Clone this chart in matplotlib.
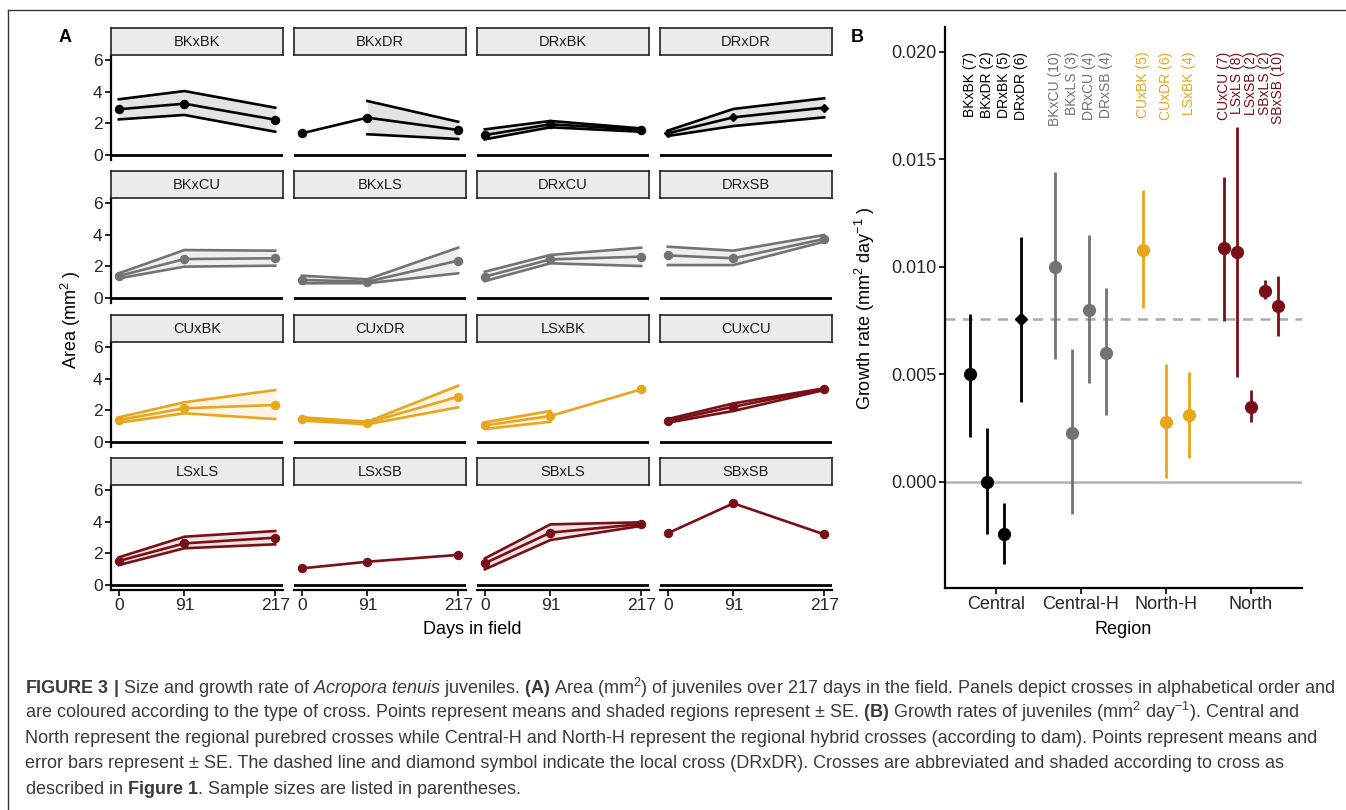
import matplotlib
matplotlib.use("Agg")
import matplotlib.pyplot as plt
from matplotlib import font_manager
from matplotlib.lines import Line2D
import numpy as np

nan = float("nan")

# ---- panel A: area over time (mean, mean+SE, mean-SE) ----
days = [0, 91, 217]
crosses = ["BKxBK", "BKxDR", "DRxBK", "DRxDR",
           "BKxCU", "BKxLS", "DRxCU", "DRxSB",
           "CUxBK", "CUxDR", "LSxBK", "CUxCU",
           "LSxLS", "LSxSB", "SBxLS", "SBxSB"]
cross_group = ["Central", "Central", "Central", "Central",
               "Central-H", "Central-H", "Central-H", "Central-H",
               "North-H", "North-H", "North-H", "North",
               "North", "North", "North", "North"]
area_mean = [[2.89, 3.24, 2.23], [1.37, 2.36, 1.58], [1.26, 1.94, 1.60], [1.37, 2.38, 2.99],
             [1.39, 2.46, 2.51], [1.14, 1.03, 2.36], [1.35, 2.44, 2.61], [2.69, 2.51, 3.73],
             [1.39, 2.13, 2.34], [1.45, 1.22, 2.86], [1.05, 1.64, 3.33], [1.33, 2.23, 3.35],
             [1.52, 2.63, 2.99], [1.05, 1.47, 1.90], [1.37, 3.31, 3.85], [3.27, 5.16, 3.20]]
area_upper = [[3.52, 4.04, 2.99], [nan, 3.41, 2.10], [1.62, 2.15, 1.68], [1.54, 2.91, 3.58],
              [1.56, 3.03, 2.99], [1.41, 1.18, 3.18], [1.66, 2.72, 3.18], [3.24, 2.99, 3.98],
              [1.56, 2.51, 3.28], [1.56, 1.28, 3.56], [1.24, 1.96, nan], [1.45, 2.44, 3.39],
              [1.75, 3.05, 3.41], [nan, nan, nan], [1.68, 3.83, 3.96], [nan, nan, nan]]
area_lower = [[2.25, 2.53, 1.47], [nan, 1.31, 1.01], [0.99, 1.75, 1.47], [1.20, 1.83, 2.38],
              [1.24, 1.98, 2.04], [0.93, 0.93, 1.56], [1.07, 2.19, 2.02], [2.08, 2.08, 3.56],
              [1.22, 1.81, 1.45], [1.35, 1.12, 2.19], [0.82, 1.28, nan], [1.22, 1.96, 3.28],
              [1.26, 2.32, 2.57], [nan, nan, nan], [0.99, 2.84, 3.73], [nan, nan, nan]]
local_cross = "DRxDR"

# ---- panel B: growth rates (mean and SE limits) ----
regions = ["Central", "Central-H", "North-H", "North"]
growth_cross = ["BKxBK", "BKxDR", "DRxBK", "DRxDR",
                "BKxCU", "BKxLS", "DRxCU", "DRxSB",
                "CUxBK", "CUxDR", "LSxBK",
                "CUxCU", "LSxLS", "LSxSB", "SBxLS", "SBxSB"]
growth_region = ["Central"] * 4 + ["Central-H"] * 4 + ["North-H"] * 3 + ["North"] * 5
growth_n = [7, 2, 5, 6, 10, 3, 4, 4, 5, 6, 4, 7, 8, 2, 2, 10]
growth_mean = [0.0050, 0.0000, -0.0024, 0.0076, 0.0100, 0.0023, 0.0080, 0.0060,
               0.0108, 0.0028, 0.0031, 0.0109, 0.0107, 0.0035, 0.0089, 0.0082]
growth_lo = [0.0021, -0.0024, -0.0038, 0.0037, 0.0057, -0.0015, 0.0046, 0.0031,
             0.0081, 0.0002, 0.0011, 0.0075, 0.0049, 0.0028, 0.0085, 0.0068]
growth_hi = [0.0078, 0.0025, -0.0010, 0.0114, 0.0144, 0.0062, 0.0115, 0.0090,
             0.0136, 0.0055, 0.0051, 0.0142, 0.0165, 0.0043, 0.0094, 0.0096]

group_colors = {"Central": "#000000", "Central-H": "#737373",
                "North-H": "#E9A61C", "North": "#7A1017"}

caption_lines = [
    r"$\mathbf{FIGURE\ 3\ |}$ Size and growth rate of $\mathit{Acropora\ tenuis}$ juveniles. "
    r"$\mathbf{(A)}$ Area (mm$^{2}$) of juveniles over 217 days in the field. Panels depict crosses in alphabetical order and",
    r"are coloured according to the type of cross. Points represent means and shaded regions represent ± SE. "
    r"$\mathbf{(B)}$ Growth rates of juveniles (mm$^{2}$ day$^{-1}$). Central and",
    "North represent the regional purebred crosses while Central-H and North-H represent the regional hybrid "
    "crosses (according to dam). Points represent means and",
    "error bars represent ± SE. The dashed line and diamond symbol indicate the local cross (DRxDR). "
    "Crosses are abbreviated and shaded according to cross as",
    r"described in $\mathbf{Figure\ 1}$. Sample sizes are listed in parentheses.",
]

# ---- fonts ----
installed = {f.name for f in font_manager.fontManager.ttflist}
cap_font = "Liberation Sans Narrow" if "Liberation Sans Narrow" in installed else "Liberation Sans"
plt.rcParams["font.family"] = ["Liberation Sans", "DejaVu Sans"]
plt.rcParams["mathtext.fontset"] = "custom"
plt.rcParams["mathtext.default"] = "regular"
plt.rcParams["mathtext.rm"] = cap_font
plt.rcParams["mathtext.it"] = cap_font + ":italic"
plt.rcParams["mathtext.bf"] = cap_font + ":bold"

W, H = 1346, 810
fig = plt.figure(figsize=(W / 100, H / 100), dpi=100)


def box(x0, y0, x1, y1):
    # pixel box (y from top) -> figure rect
    return [x0 / W, 1 - y1 / H, (x1 - x0) / W, (y1 - y0) / H]


# ---- panel A ----
col_x = [111, 294, 477, 660]
panel_w = 172
zero_y = [155, 298, 442, 585]
px_unit = 15.83
strip_h = 27

for k, name in enumerate(crosses):
    r, c = divmod(k, 4)
    x0 = col_x[c]
    top = zero_y[r] - 6.3 * px_unit
    bot = zero_y[r] + 0.3 * px_unit
    ax = fig.add_axes(box(x0, top, x0 + panel_w, bot))
    ax.set_xlim(-10.85, 227.85)
    ax.set_ylim(-0.3, 6.3)
    col = group_colors[cross_group[k]]
    up = np.array(area_upper[k])
    lo = np.array(area_lower[k])
    ok = np.isfinite(up) & np.isfinite(lo)
    if ok.any():
        ax.fill_between(days, lo, up, where=ok, color=col, alpha=0.11, lw=0)
        ax.plot(days, up, color=col, lw=1.9)
        ax.plot(days, lo, color=col, lw=1.9)
    mk = "D" if name == local_cross else "o"
    ax.plot(days, area_mean[k], color=col, lw=1.9, marker=mk,
            ms=4.5 if mk == "D" else 5.8)
    ax.axhline(0, color="black", lw=2)

    for s in ["top", "right"]:
        ax.spines[s].set_visible(False)
    ax.spines["left"].set_visible(c == 0)
    ax.spines["bottom"].set_visible(r == 3)
    ax.spines["left"].set_linewidth(1.6)
    ax.spines["bottom"].set_linewidth(1.6)
    ax.set_yticks([0, 2, 4, 6])
    ax.set_xticks(days)
    ax.tick_params(axis="y", left=(c == 0), labelleft=(c == 0), length=4, width=1.2,
                   labelsize=12.5, labelcolor="#262626", pad=2)
    ax.tick_params(axis="x", bottom=(r == 3), labelbottom=(r == 3), length=4, width=1.2,
                   labelsize=12.5, labelcolor="#262626", pad=2)
    ax.patch.set_alpha(0)

    sax = fig.add_axes(box(x0, top - strip_h, x0 + panel_w, top))
    sax.set_facecolor("#ebebeb")
    sax.set_xticks([])
    sax.set_yticks([])
    for s in sax.spines.values():
        s.set_linewidth(1.2)
        s.set_color("#222222")
    sax.text(0.5, 0.5, name, ha="center", va="center", fontsize=10.5, color="#1a1a1a",
             transform=sax.transAxes)

# ---- panel B ----
axb = fig.add_axes(box(945, 27, 1302, 588))
axb.set_xlim(0.4, 4.6)
axb.set_ylim(-0.00493, 0.02116)
axb.axhline(0, color="#b3b3b3", lw=1.8, zorder=1)
local_rate = growth_mean[growth_cross.index(local_cross)]
axb.axhline(local_rate, color="#aaaaaa", lw=1.8, dashes=(4, 3), zorder=1)

for ri, reg in enumerate(regions):
    idx = [i for i, g in enumerate(growth_region) if g == reg]
    n = len(idx)
    step = 0.8 / n
    for j, i in enumerate(idx):
        x = ri + 1 + (j - (n - 1) / 2) * step
        col = group_colors[reg]
        axb.vlines(x, growth_lo[i], growth_hi[i], color=col, lw=2, zorder=2)
        if growth_cross[i] == local_cross:
            axb.plot(x, growth_mean[i], marker="D", ms=6.5, color=col, zorder=3)
        else:
            axb.plot(x, growth_mean[i], marker="o", ms=8.5, color=col, zorder=3)
        axb.text(x, 0.02002, f"{growth_cross[i]} ({growth_n[i]})", rotation=90,
                 ha="center", va="top", fontsize=10, color=col)

for s in ["top", "right"]:
    axb.spines[s].set_visible(False)
axb.spines["left"].set_linewidth(1.6)
axb.spines["bottom"].set_linewidth(1.6)
axb.set_yticks([0.0, 0.005, 0.010, 0.015, 0.020])
axb.set_yticklabels(["0.000", "0.005", "0.010", "0.015", "0.020"])
axb.set_xticks([1, 2, 3, 4])
axb.set_xticklabels(regions)
axb.tick_params(length=4, width=1.2, labelsize=13, labelcolor="#262626", pad=2)

# ---- labels ----
fig.text(65 / W, 1 - 37 / H, "A", fontsize=13, weight="bold", ha="center", va="center")
fig.text(857 / W, 1 - 37 / H, "B", fontsize=13, weight="bold", ha="center", va="center")
fig.text(71 / W, 1 - 320 / H, r"Area (mm$^{2}$ )", rotation=90, fontsize=13,
         ha="center", va="center")
fig.text(472 / W, 1 - 630 / H, "Days in field", fontsize=13, ha="center", va="center")
fig.text(865 / W, 1 - 308 / H, r"Growth rate (mm$^{2}$ day$^{-1}$ )", rotation=90,
         fontsize=13, ha="center", va="center")
fig.text(1123 / W, 1 - 629 / H, "Region", fontsize=13, ha="center", va="center")

# ---- caption ----
baselines = [694, 718, 743, 768, 794]
cap_texts = []
for line, yb in zip(caption_lines, baselines):
    t = fig.text(25 / W, 1 - yb / H, line, fontsize=11, family=cap_font,
                 color="#3a3a3a", ha="left", va="baseline")
    cap_texts.append(t)
renderer = fig.canvas.get_renderer()
w0 = cap_texts[0].get_window_extent(renderer).width
size = 11 * 1308 / w0
for t in cap_texts:
    t.set_fontsize(size)

# frame around figure
fig.add_artist(Line2D([8 / W, 8 / W], [0, 1 - 10 / H], color="#333333", lw=1))
fig.add_artist(Line2D([8 / W, 1], [1 - 10 / H, 1 - 10 / H], color="#333333", lw=1))

fig.savefig("out.png", dpi=100)
